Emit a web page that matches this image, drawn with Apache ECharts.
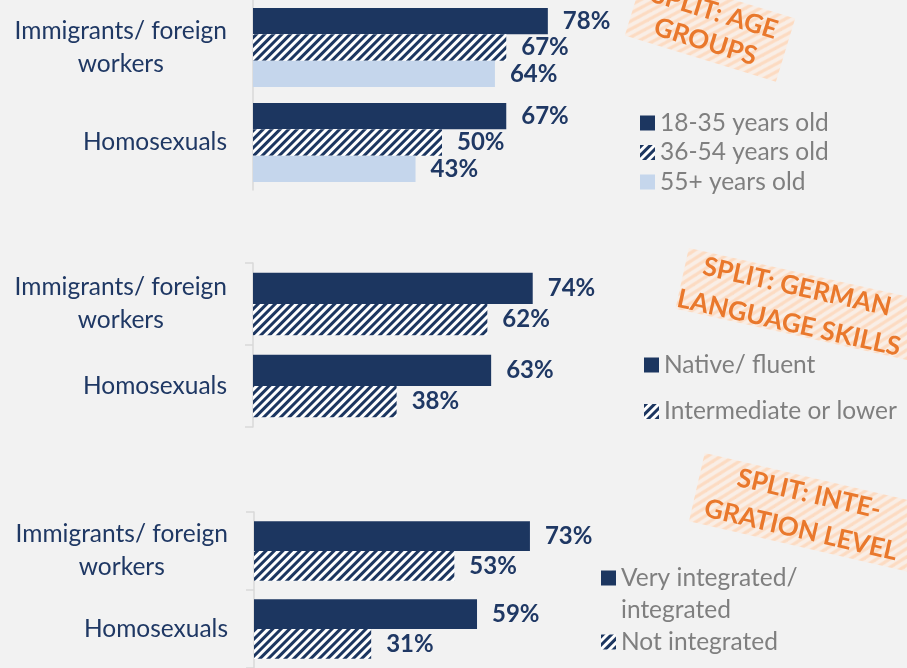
<!DOCTYPE html>
<html>
<head>
<meta charset="utf-8">
<style>
  html, body { margin: 0; padding: 0; background: #f2f2f2; }
  #chart { width: 907px; height: 668px; }
</style>
<script src="https://cdn.jsdelivr.net/npm/echarts@6/dist/echarts.min.js"></script>
</head>
<body>
<div id="chart"></div>
<script>
// Groups that were asked about
const categories = ['Immigrants/ foreign workers', 'Homosexuals'];

// Split by age group (%)
const ageNames = ['18-35 years old', '36-54 years old', '55+ years old'];
const age18to35 = [78, 67];
const age36to54 = [67, 50];
const age55plus = [64, 43];

// Split by German language skills (%)
const languageNames = ['Native/ fluent', 'Intermediate or lower'];
const langNative = [74, 63];
const langIntermediate = [62, 38];

// Split by integration level (%)
const integrationNames = ['Very integrated/ integrated', 'Not integrated'];
const integrated = [73, 59];
const notIntegrated = [53, 31];

// Panel headings
const stickerTexts = ['SPLIT: AGE\nGROUPS', 'SPLIT: GERMAN\nLANGUAGE SKILLS', 'SPLIT: INTE-\nGRATION LEVEL'];

const NAVY = '#1c3660';
const LIGHT = '#c5d6ec';
const LABEL = '#1f3864';
const LEGEND_TEXT = '#7f7f7f';
const ORANGE = '#e9782c';
const FONT = 'Lato, "Open Sans", sans-serif';

const hatch = {
  symbol: 'rect',
  symbolSize: 1,
  dashArrayX: [1, 0],
  dashArrayY: [2.5, 2.5],
  rotation: -Math.PI / 4,
  color: NAVY,
  backgroundColor: '#ffffff'
};

// light diagonal stripes behind the panel headings
function stripeCanvas() {
  const c = document.createElement('canvas');
  c.width = 10; c.height = 10;
  const g = c.getContext('2d');
  g.fillStyle = '#f9eee6';
  g.fillRect(0, 0, 10, 10);
  g.strokeStyle = '#fcdbc2';
  g.lineWidth = 3.2;
  [[-2, 2, 2, -2], [0, 10, 10, 0], [8, 12, 12, 8]].forEach(([a, b, c2, d]) => {
    g.beginPath(); g.moveTo(a, b); g.lineTo(c2, d); g.stroke();
  });
  return c;
}
const stripeFill = { image: stripeCanvas(), repeat: 'repeat' };

const grids = [
  { left: 253, top: -2, width: 378, height: 192 },
  { left: 253, top: 263, width: 378, height: 164 },
  { left: 254, top: 512, width: 378, height: 164 }
];

function catLabel(v) {
  return v.replace('/ foreign ', '/ foreign\n').split('\n').map(s => '{c|' + s + '}').join('\n');
}

const yAxes = grids.map((g, i) => ({
  type: 'category',
  gridIndex: i,
  data: categories,
  inverse: true,
  axisLine: { show: true, lineStyle: { color: '#d9d9d9', width: 1.5 } },
  axisTick: { show: i > 0, length: 8, lineStyle: { color: '#d9d9d9', width: 1.5 } },
  axisLabel: {
    margin: 26,
    formatter: catLabel,
    rich: { c: { align: 'center', fontSize: 24.5, lineHeight: 33, color: LABEL, fontFamily: FONT } }
  }
}));

const xAxes = grids.map((g, i) => ({
  type: 'value', gridIndex: i, min: 0, max: 100, show: false, splitLine: { show: false }
}));

const valueLabel = {
  show: true,
  position: 'right',
  distance: 15,
  formatter: '{c}%',
  color: LABEL,
  fontSize: 24,
  fontWeight: 'bold',
  fontFamily: FONT
};

function bar(name, data, idx, style, gap) {
  return {
    type: 'bar', name, data,
    xAxisIndex: idx, yAxisIndex: idx,
    barGap: 0, barCategoryGap: gap,
    itemStyle: style,
    label: valueLabel,
    emphasis: { disabled: true }
  };
}

const solid = { color: NAVY };
const light = { color: LIGHT };
const hatched = { color: '#ffffff', decal: hatch };

const series = [
  bar(ageNames[0], age18to35, 0, solid, '16.7%'),
  bar(ageNames[1], age36to54, 0, hatched, '16.7%'),
  bar(ageNames[2], age55plus, 0, light, '16.7%'),
  bar(languageNames[0], langNative, 1, solid, '24%'),
  bar(languageNames[1], langIntermediate, 1, hatched, '24%'),
  bar(integrationNames[0], integrated, 2, solid, '24%'),
  bar(integrationNames[1], notIntegrated, 2, hatched, '24%')
];

const legendText = { color: LEGEND_TEXT, fontSize: 24.5, lineHeight: 23, fontFamily: FONT };

function legend(names, left, top, gap, extra) {
  return Object.assign({
    data: names,
    orient: 'vertical',
    left, top,
    padding: 0,
    itemGap: gap,
    itemWidth: 15,
    itemHeight: 15,
    icon: 'rect',
    selectedMode: false,
    textStyle: legendText
  }, extra || {});
}

// the wrapped entry keeps its marker beside the first line: an empty
// spacer line above balances the second line below
const legends = [
  legend(ageNames, 640, 110.5, 4.5),
  legend(languageNames, 644, 352.5, 21.5),
  legend([integrationNames[0]], 601, 530, 0, {
    formatter: n => '{s|}\n' + n.split('/ ').map((s, i, a) => '{a|' + s + (i < a.length - 1 ? '/' : '') + '}').join('\n'),
    textStyle: Object.assign({}, legendText, {
      rich: {
        s: { lineHeight: 32, fontSize: 24.5 },
        a: { lineHeight: 32, fontSize: 24.5, color: LEGEND_TEXT, fontFamily: FONT }
      }
    })
  }),
  legend([integrationNames[1]], 601, 629.5, 0)
];

function sticker(text, cx, cy, deg, rw, rh, rdx, rdy, lh) {
  return {
    type: 'group', x: cx, y: cy, rotation: -deg * Math.PI / 180, silent: true,
    children: [
      { type: 'rect', shape: { x: -rw / 2 + rdx, y: -rh / 2 + rdy, width: rw, height: rh }, style: { fill: stripeFill } },
      { type: 'text', style: { text, x: 0, y: 0, align: 'center', verticalAlign: 'middle',
        fill: ORANGE, fontSize: 26, fontWeight: 'bold', fontFamily: FONT, lineHeight: lh } }
    ]
  };
}

const chart = echarts.init(document.getElementById('chart'), null, { renderer: 'canvas' });
chart.setOption({
  backgroundColor: '#f2f2f2',
  animation: false,
  grid: grids,
  xAxis: xAxes,
  yAxis: yAxes,
  legend: legends,
  series,
  graphic: [
    sticker(stickerTexts[0], 710, 27, 17, 158, 66, 0, 0, 31),
    sticker(stickerTexts[1], 793, 305, 12.5, 240, 62, 6, -2, 37),
    sticker(stickerTexts[2], 805, 512, 13, 240, 70, 9, 0, 37)
  ]
});
</script>
</body>
</html>
